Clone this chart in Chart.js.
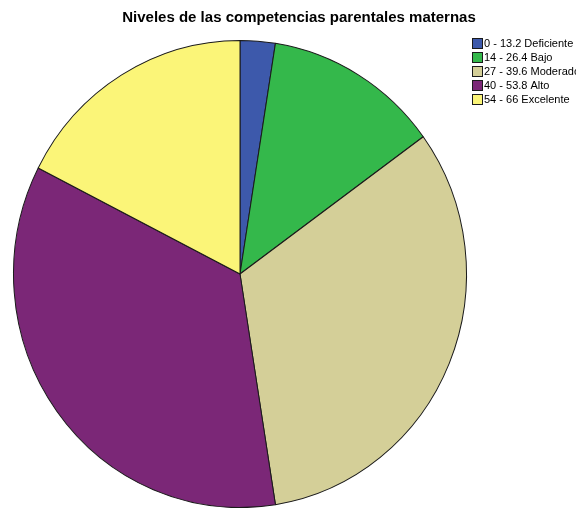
<!DOCTYPE html>
<html>
<head>
<meta charset="utf-8">
<script src="https://cdn.jsdelivr.net/npm/chart.js@4.4.1/dist/chart.umd.min.js"></script>
<style>
  html, body { margin: 0; padding: 0; background: #ffffff; }
  canvas { display: block; }
</style>
</head>
<body>
<canvas id="pie" width="576" height="508"></canvas>
<script>
// Niveles (rango de puntaje) y número de madres en cada nivel
const categories = [
  "0 - 13.2 Deficiente",
  "14 - 26.4 Bajo",
  "27 - 39.6 Moderado",
  "40 - 53.8 Alto",
  "54 - 66 Excelente"
];
const counts = [1, 5, 13, 14, 7];
const sliceColors = ["#3d59ab", "#34b84b", "#d4cf98", "#7b2777", "#fbf578"];
const chartTitle = "Niveles de las competencias parentales maternas";

// Slightly taller than wide, as in the printed figure
const ellipse = {
  id: "ellipse",
  beforeDatasetsDraw(chart) {
    const arc = chart.getDatasetMeta(0).data[0];
    const ctx = chart.ctx;
    ctx.save();
    ctx.translate(arc.x, arc.y);
    ctx.scale(1, 1.031);
    ctx.translate(-arc.x, -arc.y);
  },
  afterDatasetsDraw(chart) {
    chart.ctx.restore();
  }
};

// Title and boxed legend in the top-right corner
const labels = {
  id: "labels",
  afterDraw(chart) {
    const ctx = chart.ctx;
    ctx.save();
    ctx.fillStyle = "#000000";
    ctx.font = "bold 15px 'Liberation Sans', Arial, sans-serif";
    ctx.textAlign = "center";
    ctx.textBaseline = "middle";
    ctx.fillText(chartTitle, 299, 18);

    ctx.font = "11px 'Liberation Sans', Arial, sans-serif";
    ctx.textAlign = "left";
    categories.forEach((name, i) => {
      const cy = 44 + i * 14;
      ctx.fillStyle = sliceColors[i];
      ctx.fillRect(472.5, cy - 5.5, 10, 10);
      ctx.strokeStyle = "#1a1a1a";
      ctx.lineWidth = 1;
      ctx.strokeRect(472.5, cy - 5.5, 10, 10);
      ctx.fillStyle = "#000000";
      ctx.fillText(name, 484, cy);
    });
    ctx.restore();
  }
};

new Chart(document.getElementById("pie"), {
  type: "pie",
  data: {
    labels: categories,
    datasets: [{
      data: counts,
      backgroundColor: sliceColors,
      borderColor: "#1a1a1a",
      borderWidth: 1
    }]
  },
  options: {
    responsive: false,
    animation: false,
    layout: { padding: { left: 13, right: 109, top: 47, bottom: 7 } },
    plugins: {
      legend: { display: false },
      title: { display: false },
      tooltip: { enabled: false }
    }
  },
  plugins: [ellipse, labels]
});
</script>
</body>
</html>
